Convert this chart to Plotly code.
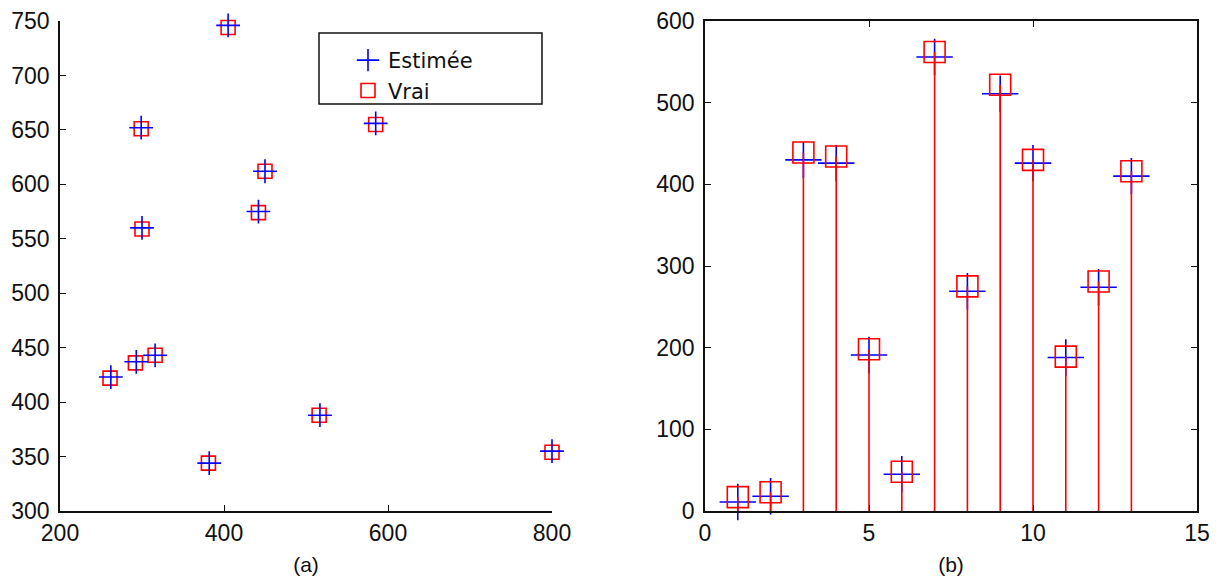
import plotly.graph_objects as go

# Panel (a): source positions, true vs estimated
pos_x_vrai = [405, 299, 585, 450, 442, 300, 261, 292, 316, 381, 516, 800]
pos_y_vrai = [744, 651, 655, 612, 574, 559, 422, 436, 443, 344, 388, 354]
pos_x_est = [405, 299, 585, 450, 442, 300, 262, 293, 316, 382, 517, 800]
pos_y_est = [746, 652, 656, 612, 575, 560, 423, 437, 443, 344, 388, 355]

# Panel (b): amplitudes per index, true vs estimated
idx = list(range(1, 14))
amp_vrai = [17, 23, 439, 434, 198, 48, 562, 275, 522, 430, 189, 281, 416]
amp_est = [11, 18, 430, 426, 191, 45, 556, 269, 511, 426, 188, 274, 410]

ticks_ax_x = [200, 400, 600, 800]
ticks_ax_y = [300, 350, 400, 450, 500, 550, 600, 650, 700, 750]
ticks_bx_x = [0, 5, 10, 15]
ticks_bx_y = [0, 100, 200, 300, 400, 500, 600]

W, H = 1222, 581
RED = "#ff0000"
BLUE = "#0000ff"
AXC = "#111111"
TICKFONT = dict(family="Liberation Sans, Arial, sans-serif", size=23, color="#111111")
TITLEFONT = dict(family="Liberation Sans, Arial, sans-serif", size=21, color="#111111")

fig = go.Figure()

# (a)
fig.add_trace(go.Scatter(
    x=pos_x_vrai, y=pos_y_vrai, mode="markers", name="Vrai", legendrank=2,
    marker=dict(symbol="square-open", size=14, color=RED, line=dict(color=RED, width=1.6)),
    cliponaxis=False, xaxis="x", yaxis="y"))
fig.add_trace(go.Scatter(
    x=pos_x_est, y=pos_y_est, mode="markers", name="Estimée", legendrank=1,
    marker=dict(symbol="cross-thin-open", size=17, color=BLUE, line=dict(color=BLUE, width=1.6)),
    cliponaxis=False, xaxis="x", yaxis="y"))

# (b)
fig.add_trace(go.Scatter(
    x=idx, y=amp_est, mode="markers", showlegend=False,
    marker=dict(symbol="cross-thin-open", size=26, color=BLUE, line=dict(color=BLUE, width=1.6)),
    cliponaxis=False, xaxis="x2", yaxis="y2"))
stem_x, stem_y = [], []
for i, v in zip(idx, amp_vrai):
    stem_x += [i, i, None]
    stem_y += [0, v, None]
fig.add_trace(go.Scatter(
    x=stem_x, y=stem_y, mode="lines", showlegend=False,
    line=dict(color=RED, width=1.6), xaxis="x2", yaxis="y2"))
fig.add_trace(go.Scatter(
    x=idx, y=amp_vrai, mode="markers", showlegend=False,
    marker=dict(symbol="square-open", size=21, color=RED, line=dict(color=RED, width=1.6)),
    cliponaxis=False, xaxis="x2", yaxis="y2"))

ydom = [1 - 511 / H, 1 - 21 / H]
common = dict(showgrid=False, zeroline=False, showline=True, linecolor=AXC, linewidth=1.5,
              ticks="inside", ticklen=6, tickwidth=1.2, tickcolor=AXC, tickfont=TICKFONT,
              automargin=False)

fig.update_layout(
    width=W, height=H,
    margin=dict(l=0, r=0, t=0, b=0, autoexpand=False),
    paper_bgcolor="white", plot_bgcolor="white",
    showlegend=True,
    legend=dict(x=348 / W, y=1 - 40 / H, xanchor="left", yanchor="top",
                bgcolor="rgba(0,0,0,0)", borderwidth=0,
                font=dict(family="DejaVu Sans", size=21, color="#111111")),
    xaxis=dict(domain=[60 / W, 552 / W], range=[200, 800], tickvals=ticks_ax_x, anchor="y",
               mirror=False, ticklabelstandoff=1,
               title=dict(text="(a)", standoff=12, font=TITLEFONT),
               **common),
    yaxis=dict(domain=ydom, range=[300, 750], tickvals=ticks_ax_y, anchor="x",
               mirror=False, ticklabelstandoff=4, **common),
    xaxis2=dict(domain=[705 / W, 1197 / W], range=[0, 15], tickvals=ticks_bx_x, anchor="y2",
                mirror="ticks", ticklabelstandoff=1,
                title=dict(text="(b)", standoff=12, font=TITLEFONT),
                **common),
    yaxis2=dict(domain=ydom, range=[0, 600], tickvals=ticks_bx_y, anchor="x2",
                mirror="ticks", ticklabelstandoff=4, **common),
    shapes=[dict(type="rect", xref="paper", yref="paper",
                 x0=319 / W, x1=542 / W, y0=1 - 104 / H, y1=1 - 33 / H,
                 line=dict(color="#111111", width=1.5), fillcolor="rgba(0,0,0,0)")],
)

fig.write_html("out.html")
